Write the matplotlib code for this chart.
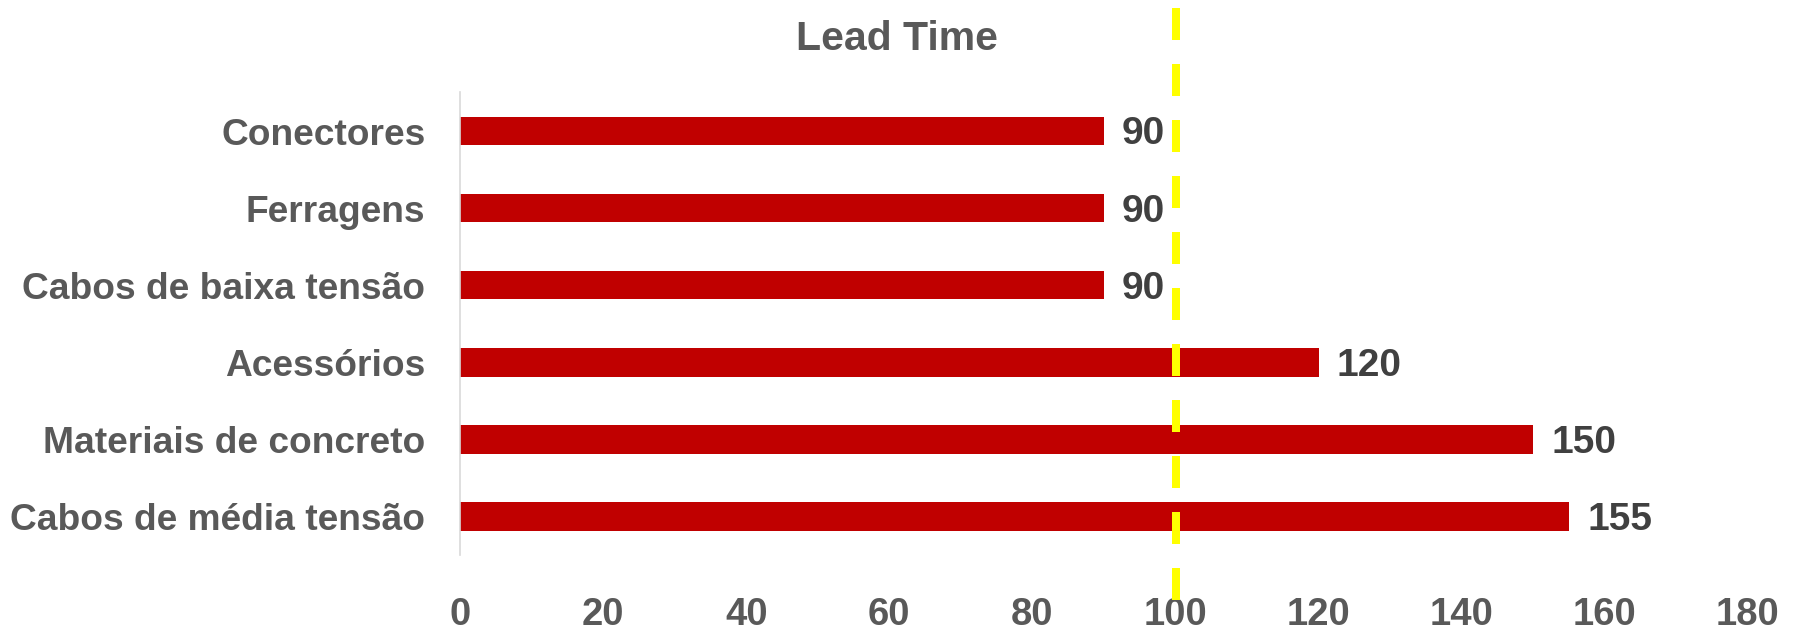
import matplotlib
matplotlib.use("Agg")
import matplotlib.pyplot as plt

categorias = ["Cabos de média tensão", "Materiais de concreto", "Acessórios",
              "Cabos de baixa tensão", "Ferragens", "Conectores"]
lead_time = [155, 150, 120, 90, 90, 90]
meta = 100
xticks = [0, 20, 40, 60, 80, 100, 120, 140, 160, 180]

plt.rcParams['font.family'] = ['Liberation Sans', 'DejaVu Sans']

fig = plt.figure(figsize=(18.02, 6.36), dpi=100)
ax = fig.add_axes([0.2553, 0.1274, 0.7147, 0.7272])

y = list(range(len(categorias)))
ax.barh(y, lead_time, height=0.37, color="#C00000", zorder=2)

for yi, v in zip(y, lead_time):
    ax.annotate(str(v), (v, yi), xytext=(13, -2.5), textcoords="offset points",
                va="center", ha="left", fontsize=28, fontweight="bold",
                color="#404040")

# linha de meta (tracejada amarela), passa um pouco além dos eixos
ax.plot([meta, meta], [6.6, -1.09], color="#FFFF00", lw=5.76,
        linestyle=(0, (4, 3)), solid_capstyle="butt", dash_capstyle="butt",
        clip_on=False, zorder=5)

ax.set_xlim(0, 180)
ax.set_ylim(-0.5, 5.5)
ax.set_xticks(xticks)
ax.set_yticks(y)
ax.set_yticklabels(categorias)

for s in ["top", "right", "bottom"]:
    ax.spines[s].set_visible(False)
ax.spines["left"].set_color("#D9D9D9")
ax.spines["left"].set_linewidth(1.2)

ax.tick_params(axis="x", length=0, pad=30, labelsize=27.5, labelcolor="#595959")
ax.tick_params(axis="y", length=0, pad=25, labelsize=26.7, labelcolor="#595959")
for lab in ax.get_xticklabels() + ax.get_yticklabels():
    lab.set_fontweight("bold")

fig.text(0.498, 0.921, "Lead Time", ha="center", va="baseline",
         fontsize=29.5, fontweight="bold", color="#595959")

fig.savefig("out.png", dpi=100)
